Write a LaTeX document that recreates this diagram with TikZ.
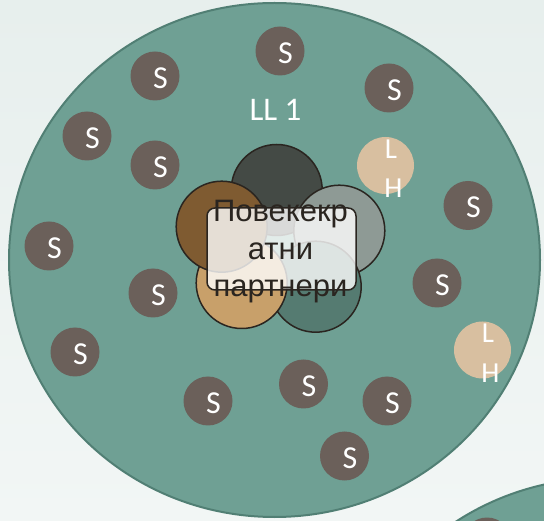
\documentclass[tikz,border=0pt]{standalone}
\usepackage{fontspec}
\setmainfont{Carlito}
\newfontfamily\boxfont{Liberation Sans}
\definecolor{bgtop}{HTML}{E7EFED}
\definecolor{bgbot}{HTML}{F2F6F5}
\definecolor{ringfill}{HTML}{6FA094}
\definecolor{ringline}{HTML}{517F74}
\definecolor{sgray}{HTML}{6B605A}
\definecolor{lhbeige}{HTML}{D8BFA0}
\definecolor{petalline}{HTML}{2A2520}
\definecolor{pdark}{HTML}{444A45}
\definecolor{pbrown}{HTML}{7F5B31}
\definecolor{pgray}{HTML}{8E9A95}
\definecolor{ptan}{HTML}{C8A06A}
\definecolor{pteal}{HTML}{557B71}

\begin{document}
\begin{tikzpicture}[x=1pt,y=-1pt]
\tikzstyle{ring}=[fill=ringfill,draw=ringline,line width=2pt];
\tikzstyle{slabel}=[text=white,font=\fontsize{32}{38}\selectfont,inner sep=0pt,xshift=5.5pt,yshift=-2pt];
\tikzstyle{sbase}=[circle,fill=sgray,minimum size=49pt,inner sep=0pt];
\tikzstyle{snode}=[sbase,label={[slabel]center:S}];
\tikzstyle{lhtext}=[text=white,font=\fontsize{29}{32}\selectfont,inner sep=0pt];
\tikzstyle{lhnode}=[circle,fill=lhbeige,minimum size=57pt,inner sep=0pt,
  label={[lhtext,xshift=5.5pt,yshift=16.5pt]center:L},label={[lhtext,xshift=8pt,yshift=-23pt]center:H}];
\tikzstyle{petal}=[circle,draw=petalline,line width=1.5pt,minimum size=91pt,inner sep=0pt];
\useasboundingbox (0,0) rectangle (544,521);
\clip (0,0) rectangle (544,521);
\shade[top color=bgtop,bottom color=bgbot] (0,0) rectangle (544,521);
% the two rings
\draw[ring] (274.5,260) ellipse [x radius=265.5,y radius=257];
\draw[ring] (604,735) ellipse [x radius=265.5,y radius=257];
% S members
\node[snode] (s1) at (280,51) {};
\node[snode] (s2) at (155,76) {};
\node[snode] (s3) at (389,88) {};
\node[snode] (s4) at (87,136) {};
\node[snode] (s5) at (155,165) {};
\node[snode] (s6) at (468,205.5) {};
\node[snode] (s7) at (49,246) {};
\node[snode] (s8) at (153,293) {};
\node[snode] (s9) at (437,283) {};
\node[snode] (s10) at (75,352) {};
\node[snode] (s11) at (303.5,384) {};
\node[snode] (s12) at (208,401) {};
\node[snode] (s13) at (387,401) {};
\node[snode] (s14) at (344.5,456) {};
\node[sbase] (s15) at (487,542) {};
% LH members
\node[lhnode] (lh1) at (385.5,165.5) {};
\node[lhnode] (lh2) at (482.5,350) {};
\node[text=white,font=\fontsize{33}{38}\selectfont,inner sep=0pt,anchor=base] (ll) at (275.5,121) {LL 1};
% centre petals
\node[petal,fill=pdark] (top) at (276.7,190) {};
\node[petal,fill=pgray] (right) at (339.3,230.7) {};
\node[petal,fill=pteal] (botright) at (315.7,286.7) {};
\node[petal,fill=ptan] (botleft) at (241.7,283) {};
\node[petal,fill=pbrown] (left) at (221.7,226.7) {};
\node[draw=petalline,line width=1.5pt,fill=white,fill opacity=0.8,rounded corners=8pt,
  minimum width=149pt,minimum height=82pt,inner sep=0pt] (box) at (281.5,249) {};
\node[text=petalline,font=\boxfont\fontsize{31}{37.5}\selectfont,align=center,inner sep=0pt] (partners)
  at (280.5,252) {Повекекр\\атни\\партнери};
\end{tikzpicture}
\end{document}
